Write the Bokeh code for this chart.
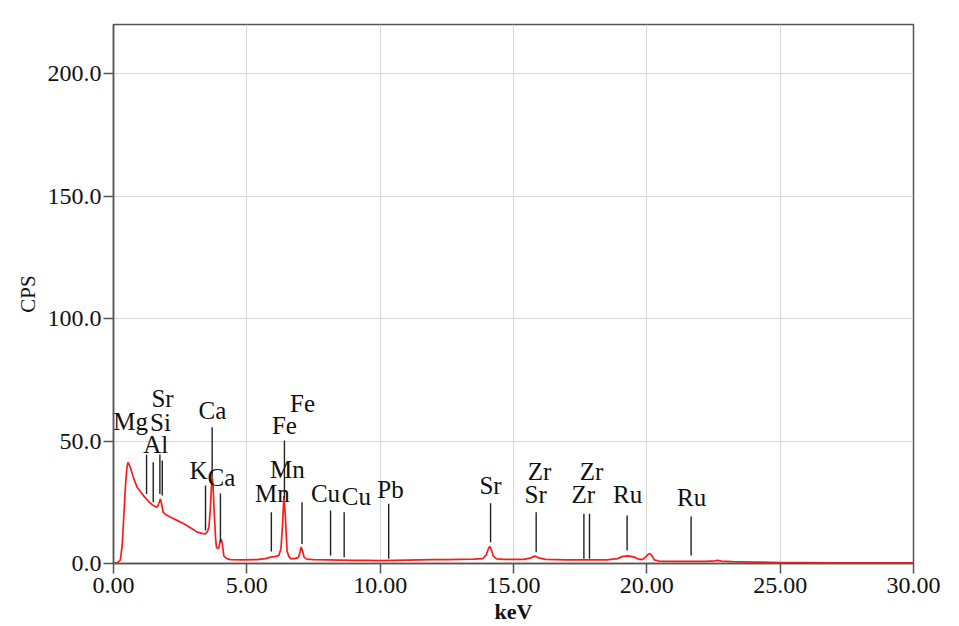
from bokeh.plotting import figure
from bokeh.models import Range1d, FixedTicker, NumeralTickFormatter, ColumnDataSource
from bokeh.core.properties import value
from bokeh.embed import file_html
from bokeh.resources import INLINE

# ---- spectrum ----
energy_kev = [0.0, 0.15, 0.26, 0.33, 0.39, 0.45, 0.50, 0.54, 0.58, 0.64, 0.72, 0.80, 0.89, 1.00,
              1.14, 1.30, 1.45, 1.58, 1.64, 1.70, 1.76, 1.80, 1.86, 1.95, 2.14, 2.40, 2.64, 2.90,
              3.14, 3.35, 3.45, 3.52, 3.58, 3.63, 3.67, 3.70, 3.73, 3.76, 3.79, 3.83, 3.86, 3.91,
              3.95, 4.00, 4.04, 4.08, 4.14, 4.25, 4.39, 4.8, 5.39, 5.7, 5.89, 6.05, 6.2, 6.28,
              6.34, 6.39, 6.44, 6.51, 6.58, 6.64, 6.8, 6.94, 7.00, 7.04, 7.09, 7.15, 7.25, 7.5,
              8.0, 8.5, 9.0, 9.5, 10.0, 10.5, 11.0, 11.5, 12.0, 12.5, 13.0, 13.5, 13.85, 13.98,
              14.05, 14.11, 14.17, 14.24, 14.37, 14.6, 15.0, 15.4, 15.65, 15.8, 15.95, 16.2, 16.6,
              17.0, 17.5, 18.0, 18.5, 18.9, 19.1, 19.3, 19.5, 19.7, 19.85, 19.97, 20.06, 20.11,
              20.17, 20.28, 20.45, 21.0, 21.5, 22.2, 22.55, 22.65, 22.8, 23.2, 24.0, 25.0, 26.0,
              27.0, 28.0, 29.0, 30.0]
cps = [0.0, 0.3, 1.5, 8.0, 20.0, 32.0, 39.0, 41.3, 40.5, 39.0, 36.0, 33.5, 31.0, 29.5,
       27.5, 25.5, 24.0, 23.2, 23.0, 24.5, 26.4, 24.5, 21.0, 20.0, 18.9, 17.5, 16.2, 14.5,
       12.8, 12.2, 12.1, 13.0, 15.0, 22.0, 31.0, 35.2, 32.0, 25.0, 18.0, 10.0, 6.7, 6.0,
       6.5, 9.0, 10.0, 8.0, 3.0, 2.0, 1.6, 1.5, 1.6, 2.0, 2.6, 2.8, 3.3, 6.0,
       16.0, 27.5, 20.0, 5.0, 2.8, 2.0, 2.0, 2.5, 5.0, 6.7, 5.0, 2.5, 1.8, 1.6,
       1.5, 1.4, 1.3, 1.3, 1.2, 1.3, 1.4, 1.5, 1.6, 1.6, 1.7, 1.8, 2.0, 3.5,
       5.8, 7.0, 5.8, 3.0, 1.9, 1.7, 1.7, 1.7, 2.3, 3.0, 2.3, 1.7, 1.6,
       1.5, 1.5, 1.5, 1.5, 2.0, 2.9, 3.1, 2.7, 1.7, 1.7, 2.8, 3.8, 4.0,
       3.5, 1.5, 1.0, 0.9, 0.9, 0.9, 1.1, 1.3, 1.0, 0.8, 0.6, 0.4, 0.4,
       0.3, 0.3, 0.3, 0.3]

# ---- element marker lines ----
marker_kev = [1.24, 1.49, 1.74, 1.83, 3.45, 3.70, 4.01, 5.92, 6.41, 7.07, 8.14, 8.65, 10.32,
              14.14, 15.85, 17.64, 17.85, 19.26, 21.66]
marker_top = [44.5, 41.3, 44.5, 42.0, 31.8, 55.6, 28.6, 20.9, 50.2, 25.0, 21.6, 20.9, 24.4,
              24.6, 20.9, 20.3, 20.3, 19.6, 19.2]
marker_bottom = [28.4, 25.0, 28.4, 27.8, 13.5, 35.2, 8.7, 4.9, 26.5, 8.0, 3.3, 2.6, 1.9,
                 8.7, 4.6, 1.9, 1.9, 5.3, 3.3]

# ---- element labels ----
label_text = ["Mg", "Al", "Si", "Sr", "K", "Ca", "Ca", "Mn", "Mn", "Fe", "Fe", "Cu", "Cu", "Pb",
              "Sr", "Zr", "Sr", "Zr", "Zr", "Ru", "Ru"]
label_kev = [0.64, 1.58, 1.76, 1.84, 3.19, 3.71, 4.05, 5.96, 6.52, 6.41, 7.09, 7.95, 9.11, 10.39,
             14.14, 15.98, 15.83, 17.93, 17.62, 19.28, 21.68]
label_cps = [58.0, 48.6, 57.6, 67.3, 38.0, 62.4, 35.1, 28.6, 38.4, 56.3, 65.3, 28.6, 27.3, 30.2,
             31.8, 37.6, 28.2, 37.6, 28.2, 28.2, 26.9]

x_ticks = [0, 5, 10, 15, 20, 25, 30]
y_ticks = [0, 50, 100, 150, 200]

FONT = "Liberation Serif"

p = figure(width=959, height=626, output_backend="svg", toolbar_location=None,
           x_range=Range1d(0, 30), y_range=Range1d(0, 220),
           min_border_left=113, min_border_right=46, min_border_top=24, min_border_bottom=63)
p.background_fill_color = "white"
p.border_fill_color = "white"
p.outline_line_color = "#555555"
p.outline_line_width = 1.5

for g in (p.xgrid[0], p.ygrid[0]):
    g.grid_line_color = "#d6d6d6"
    g.grid_line_width = 1
p.xgrid[0].ticker = FixedTicker(ticks=x_ticks)
p.ygrid[0].ticker = FixedTicker(ticks=y_ticks)

xa = p.xaxis[0]
xa.ticker = FixedTicker(ticks=x_ticks)
xa.formatter = NumeralTickFormatter(format="0.00")
xa.axis_label = "keV"
xa.axis_label_text_font = FONT
xa.axis_label_text_font_size = "22px"
xa.axis_label_text_font_style = "bold"
xa.axis_label_standoff = 3

ya = p.yaxis[0]
ya.ticker = FixedTicker(ticks=y_ticks)
ya.formatter = NumeralTickFormatter(format="0.0")
ya.axis_label = "CPS"
ya.axis_label_text_font = FONT
ya.axis_label_text_font_size = "21px"
ya.axis_label_text_font_style = "normal"
ya.axis_label_standoff = 5

for a in (xa, ya):
    a.major_label_text_font = FONT
    a.major_label_text_font_size = "24px"
    a.major_label_text_color = "#111111"
    a.axis_label_text_color = "#111111"
    a.axis_line_color = "#555555"
    a.axis_line_width = 1.5
    a.major_tick_line_color = "#555555"
    a.major_tick_line_width = 1.5
    a.major_tick_out = 10
    a.major_tick_in = 0
    a.minor_tick_line_color = None
xa.major_label_standoff = 4
ya.major_label_standoff = 2

p.line(energy_kev, cps, line_color="#ff1a1a", line_width=1.7)

msrc = ColumnDataSource(dict(x=marker_kev, top=marker_top, bottom=marker_bottom))
p.segment(x0="x", y0="bottom", x1="x", y1="top", source=msrc, line_color="#222222", line_width=1.4)

lsrc = ColumnDataSource(dict(x=label_kev, y=label_cps, t=label_text))
p.text(x="x", y="y", text="t", source=lsrc, text_align="center", text_baseline="middle",
       text_font=value(FONT), text_font_size="25px", text_color="#111111")

open("out.html", "w").write(file_html(p, INLINE))
